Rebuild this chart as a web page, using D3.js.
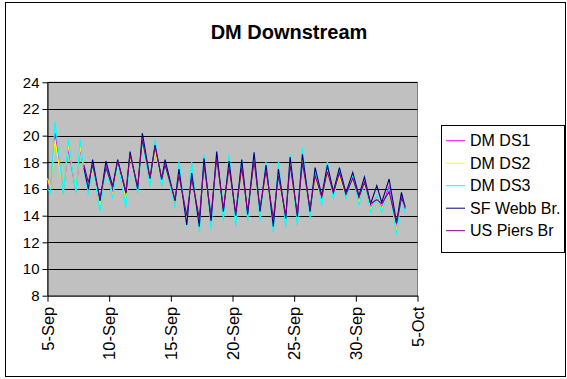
<!DOCTYPE html>
<html>
<head>
<meta charset="utf-8">
<script src="https://cdn.jsdelivr.net/npm/d3@7"></script>
<style>
  body { margin: 0; background: #fff; }
  svg { font-family: Arial, "Liberation Sans", sans-serif; }
</style>
</head>
<body>
<svg id="chart" width="567" height="379"></svg>
<script>
// readings: days after 5-Sep 00:00, alternating daily lows and highs
const dayOffsets = [0.0, 0.25, 0.61, 1.28, 1.69, 2.31, 2.64, 2.95, 3.31, 3.66,
  4.26, 4.74, 5.28, 5.69, 6.37, 6.69, 7.31, 7.69, 8.31, 8.72,
  9.26, 9.53, 10.34, 10.66, 11.29, 11.69, 12.31, 12.69, 13.26, 13.72,
  14.26, 14.72, 15.26, 15.75, 16.23, 16.75, 17.23, 17.72, 18.31, 18.72,
  19.32, 19.67, 20.26, 20.67, 21.29, 21.7, 22.24, 22.69, 23.18, 23.67,
  24.2, 24.75, 25.25, 25.7, 26.2, 26.7, 27.1, 27.7, 28.3, 28.7, 29.0]

const dmDs1 = [16.5, 16.0, 20.2, 15.8, 19.0, 15.8, 19.0, 17.5, 16.0, 17.6,
  15.0, 17.8, 15.6, 18.0, 15.4, 18.6, 16.0, 19.6, 16.6, 19.2,
  16.6, 17.8, 15.0, 17.5, 13.6, 17.2, 13.4, 18.2, 13.6, 18.6,
  14.2, 18.0, 13.7, 17.8, 14.0, 18.4, 14.1, 17.7, 13.3, 17.4,
  13.6, 18.2, 13.7, 18.6, 14.2, 17.2, 15.1, 17.6, 15.6, 17.2,
  15.5, 16.9, 15.1, 16.5, 14.6, 15.4, 14.6, 16.2, 13.0, 15.6, 14.5]

const dmDs2 = [16.8, 16.0, 19.7, 15.8, 19.3, 15.9, 19.2, 17.5, 16.0, 17.5,
  14.8, 17.5, 15.5, 17.8, 15.2, 18.5, 15.9, 19.3, 16.5, 19.0,
  16.5, 17.6, 15.0, 17.3, 13.5, 17.0, 13.3, 18.0, 13.5, 18.4,
  14.0, 17.8, 13.6, 17.6, 13.9, 18.2, 14.0, 17.5, 13.2, 17.2,
  13.5, 18.0, 13.6, 18.4, 14.1, 17.0, 15.0, 17.4, 15.5, 17.0,
  15.4, 16.8, 15.0, 16.4, 14.5, 15.3, 14.5, 15.8, 12.9, 15.3, 14.6]

const dmDs3 = [16.0, 15.7, 21.1, 15.6, 19.7, 15.7, 19.7, 17.5, 15.6, 17.8,
  14.3, 17.6, 15.3, 18.0, 14.6, 18.8, 15.7, 19.5, 16.2, 19.7,
  16.2, 17.8, 14.6, 18.1, 13.2, 18.1, 12.8, 18.6, 13.0, 18.8,
  13.6, 18.6, 13.2, 18.2, 13.6, 18.6, 13.6, 18.1, 12.75, 18.1,
  13.1, 18.6, 13.25, 19.1, 13.75, 17.6, 14.75, 18.1, 15.25, 17.6,
  15.25, 17.0, 14.75, 16.6, 14.25, 15.5, 14.25, 16.0, 12.6, 15.4, 14.2]

const sfWebb = [null, null, null, null, null, null, null, 17.6, 16.0, 18.2,
  15.1, 18.1, 16.2, 18.2, 15.7, 18.8, 16.0, 20.2, 16.8, 19.3,
  16.7, 18.2, 15.1, 17.5, 13.3, 17.2, 13.2, 18.3, 13.6, 18.8,
  14.3, 18.1, 14.0, 18.2, 14.1, 18.75, 14.3, 17.8, 13.2, 17.5,
  13.8, 18.4, 13.9, 18.6, 14.3, 17.6, 15.5, 17.8, 15.8, 17.6,
  15.7, 17.25, 15.5, 16.9, 14.9, 16.25, 15.0, 16.75, 13.5, 15.75, 14.6]

const usPiers = [null, null, null, null, null, null, null, 17.8, 16.5, 17.8,
  15.3, 17.6, 16.1, 18.1, 15.8, 18.6, 16.2, 19.7, 16.8, 19.2,
  16.8, 17.8, 15.2, 17.0, 14.0, 16.8, 13.8, 17.8, 14.0, 18.3,
  14.5, 17.6, 14.2, 17.6, 14.3, 18.1, 14.5, 17.4, 13.8, 17.0,
  14.0, 17.8, 14.1, 18.0, 14.5, 17.0, 15.4, 17.3, 15.7, 17.2,
  15.6, 16.8, 15.4, 16.5, 14.9, 15.2, 14.9, 15.8, 13.4, 15.3, 14.7]

const seriesNames = ['DM DS1', 'DM DS2', 'DM DS3', 'SF Webb Br.', 'US Piers Br']
const seriesColors = ['#ff00ff', '#ffff00', '#00ffff', '#000080', '#800080']
const seriesValues = [dmDs1, dmDs2, dmDs3, sfWebb, usPiers]

const yTicks = [8, 10, 12, 14, 16, 18, 20, 22, 24]
const xTickLabels = ['5-Sep', '10-Sep', '15-Sep', '20-Sep', '25-Sep', '30-Sep', '5-Oct']

const start = new Date(2006, 8, 5)
const end = new Date(2006, 9, 5)

const svg = d3.select('#chart')

// chart frame
svg.append('rect')
  .attr('x', 5.5).attr('y', 2.5)
  .attr('width', 560).attr('height', 374)
  .attr('fill', '#fff').attr('stroke', '#000')

const x = d3.scaleTime().domain([start, end]).range([47.5, 417.5])
const y = d3.scaleLinear().domain([8, 24]).range([295.7, 82.3])

// plot area
svg.append('rect')
  .attr('x', x(start)).attr('y', y(24))
  .attr('width', x(end) - x(start)).attr('height', y(8) - y(24))
  .attr('fill', '#c0c0c0').attr('stroke', '#808080')

// gridlines
svg.append('g').selectAll('line')
  .data(yTicks.slice(1))
  .join('line')
  .attr('x1', x(start)).attr('x2', x(end))
  .attr('y1', d => Math.round(y(d)) + 0.5).attr('y2', d => Math.round(y(d)) + 0.5)
  .attr('stroke', '#000')

// title
svg.append('text')
  .attr('x', 289).attr('y', 39)
  .attr('text-anchor', 'middle')
  .attr('font-size', '20px').attr('font-weight', 'bold')
  .text('DM Downstream')

// axes
const yAxis = svg.append('g')
  .attr('transform', `translate(${x(start)},0)`)
  .call(d3.axisLeft(y).tickValues(yTicks).tickSize(5).tickSizeOuter(0).tickPadding(3))
yAxis.selectAll('text').attr('font-size', '15px').attr('fill', '#000')
yAxis.selectAll('line, path').attr('stroke', '#000')

const xTickDates = xTickLabels.map((d, i) => d3.timeDay.offset(start, i * 5))
const xAxis = svg.append('g')
  .attr('transform', `translate(0,${y(8)})`)
  .call(d3.axisBottom(x).tickValues(xTickDates).tickSize(6).tickSizeOuter(0)
    .tickFormat((d, i) => xTickLabels[i]))
xAxis.selectAll('line, path').attr('stroke', '#000')
xAxis.selectAll('text')
  .attr('font-size', '16.5px').attr('fill', '#000')
  .attr('text-anchor', 'end')
  .attr('transform', 'rotate(-90)')
  .attr('x', -11).attr('y', 0).attr('dy', '0.35em')

// series lines
const times = dayOffsets.map(d => new Date(start.getTime() + d * 864e5))
const line = d3.line()
  .defined(d => d.v != null)
  .x(d => x(d.t))
  .y(d => y(d.v))

seriesValues.forEach((vals, i) => {
  svg.append('path')
    .datum(vals.map((v, j) => ({ t: times[j], v })))
    .attr('fill', 'none')
    .attr('stroke', seriesColors[i])
    .attr('stroke-width', 1.1)
    .attr('d', line)
})

// legend
const legend = svg.append('g')
legend.append('rect')
  .attr('x', 441.5).attr('y', 125.5)
  .attr('width', 123).attr('height', 127)
  .attr('fill', '#fff').attr('stroke', '#000')

seriesNames.forEach((name, i) => {
  const ly = 140.7 + i * 22.5
  legend.append('line')
    .attr('x1', 446).attr('x2', 465)
    .attr('y1', ly).attr('y2', ly)
    .attr('stroke', seriesColors[i])
  legend.append('text')
    .attr('x', 470).attr('y', ly).attr('dy', '0.35em')
    .attr('font-size', '16px')
    .text(name)
})
</script>
</body>
</html>
